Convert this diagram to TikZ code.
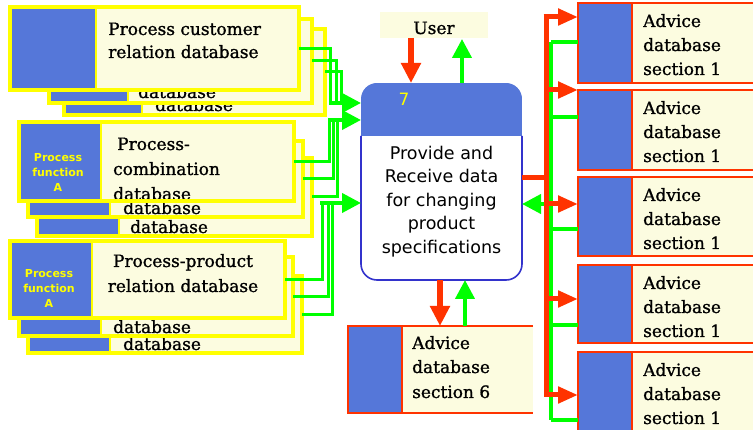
\documentclass[tikz,border=0pt]{standalone}
\usepackage{fontspec}
\setmainfont[FakeBold=1.2]{DejaVu Serif}
\newfontfamily\sansf{DejaVu Sans}
\usetikzlibrary{arrows.meta}
\definecolor{bfill}{RGB}{85,119,217}
\definecolor{beige}{RGB}{252,252,224}
\definecolor{ylw}{RGB}{255,255,0}
\definecolor{grn}{RGB}{0,255,0}
\definecolor{rd}{RGB}{255,51,0}
\definecolor{pblue}{RGB}{51,51,204}
\tikzset{
  layerbg/.style={fill=beige, inner sep=0pt, outer sep=0pt},
  ybord/.style={draw=ylw, line width=3.5pt},
  lbl/.style={font=\fontsize{17}{23}\selectfont, inner sep=0pt, anchor=base west},
  clbl/.style={font=\fontsize{17}{23}\selectfont, inner sep=0pt, anchor=base},
  pf/.style={font=\sansf\bfseries\fontsize{11}{15}\selectfont, text=ylw, align=center, inner sep=0pt, anchor=north},
  gline/.style={draw=grn, line width=3pt},
  garrow/.style={draw=grn, line width=4pt, -{Triangle[length=19pt,width=19pt]}},
  rline/.style={draw=rd, line width=5pt},
  rarrow/.style={draw=rd, line width=5.5pt, -{Triangle[length=20pt,width=19pt]}},
  rsmall/.style={draw=rd, line width=5pt, -{Triangle[length=20pt,width=16pt]}},
  advbox/.style={fill=beige, inner sep=0pt, outer sep=0pt},
}
% #1 name, #2 x1, #3 y1, #4 x2, #5 y2, #6 x of blue end, #7 contents
\newcommand\stk[7]{%
  \node[layerbg, minimum width={#4pt-#2pt}, minimum height={#5pt-#3pt}] (#1) at ({(#2+#4)/2},{(#3+#5)/2}) {};
  \fill[bfill] (#2,#3) rectangle (#6,#5);
  \draw[ylw, line width=1.5pt] (#6,#3) -- (#6,#5);
  #7
  \draw[ybord] (#1.north west) rectangle (#1.south east);
}
% #1 name, #2 y1, #3 y2
\newcommand\adv[3]{%
  \node[advbox, minimum width=182pt, minimum height={#3pt-#2pt}] (#1) at (669,{(#2+#3)/2}) {};
  \fill[bfill] (578,#2) rectangle (632,#3);
  \draw[rd, line width=1.5pt] (632,#2) -- (632,#3);
  \draw[rd, line width=2.5pt] (#1.north west) rectangle (#1.south east);
  \node[lbl] (#1a) at (643,{#2+24}) {Advice};
  \node[lbl] (#1b) at (643,{#2+48}) {database};
  \node[lbl] (#1c) at (643,{#2+72}) {section 1};
}
\begin{document}
\begin{tikzpicture}[x=1pt,y=-1pt]
\useasboundingbox (0,0) rectangle (753,430);

% ---------- top-left stack
\stk{a3}{64}{29}{325}{115}{142}{\node[lbl] (a3t) at (155,111) {database};}
\stk{a2}{49}{19}{312}{103}{128}{\node[lbl] (a2t) at (138,98) {database};}
\stk{a1}{10}{7}{299}{90}{96}{%
  \node[lbl] (a1t) at (108,35) {Process customer};
  \node[lbl] (a1u) at (108,58) {relation database};}

% ---------- middle-left stack
\stk{b3}{37}{158}{312}{236}{119}{\node[lbl] (b3t) at (130,233) {database};}
\stk{b2}{28}{141}{303}{217}{110}{\node[lbl] (b2t) at (123,214) {database};}
\stk{b1}{19}{122}{294}{201}{101}{%
  \node[pf] (b1p) at (58,153) {Process\\function\\A};
  \node[lbl] (b1t) at (117,150) {Process-};
  \node[lbl] (b1u) at (113,175) {combination};
  \node[lbl] (b1v) at (113,200) {database};}

% ---------- bottom-left stack
\stk{c3}{28}{276}{302}{353}{110}{\node[lbl] (c3t) at (123,350) {database};}
\stk{c2}{19}{257}{293}{336}{101}{\node[lbl] (c2t) at (113,333) {database};}
\stk{c1}{10}{241}{285}{318}{92}{%
  \node[pf] (c1p) at (49,269) {Process\\function\\A};
  \node[clbl] (c1t) at (183,267) {Process-product};
  \node[clbl] (c1u) at (183,292) {relation database};}

% ---------- user
\node[fill=beige, minimum width=108pt, minimum height=26pt, inner sep=0pt] (user) at (434,25) {};
\node[clbl] (usert) at (434,34) {User};

% ---------- process box
\node[fill=white, rounded corners=16pt, minimum width=161pt, minimum height=197pt, inner sep=0pt, outer sep=0pt] (proc) at (441.5,181.5) {};
\begin{scope}
  \clip[rounded corners=16pt] (361,83) rectangle (522,280);
  \fill[bfill] (361,83) rectangle (522,136);
\end{scope}
\draw[pblue, line width=1.6pt, rounded corners=16pt] (361,136) -- (361,280) -- (522,280) -- (522,136);
\node[font=\sansf\fontsize{17}{20}\selectfont, text=ylw, anchor=base, inner sep=0pt] (num) at (404,106) {7};
\node[font=\sansf\fontsize{17.5}{23.5}\selectfont, align=center, anchor=north, inner sep=0pt] (ptext) at (441.5,146) {Provide and\\Receive data\\for changing\\product\\specifications};

% ---------- section 6 box
\node[advbox, minimum width=185pt, minimum height=87pt] (s6) at (440.5,369.5) {};
\fill[bfill] (348,326) rectangle (402,413);
\draw[rd, line width=1.5pt] (402,326) -- (402,413);
\draw[rd, line width=2.5pt] (s6.north east) -- (s6.north west) -- (s6.south west) -- (s6.south east);
\node[lbl] (s6a) at (412,349) {Advice};
\node[lbl] (s6b) at (412,373) {database};
\node[lbl] (s6c) at (412,398) {section 6};

% ---------- right advice boxes
\adv{r1}{3}{83}
\adv{r2}{90}{170}
\adv{r3}{177}{256}
\adv{r4}{265}{343}
\adv{r5}{352}{432}

% ---------- user / process arrows
\draw[rarrow] (user.south -| 411,0) -- (proc.north -| 411,0);
\draw[garrow] (proc.north -| 462,0) -- (462,39);
\draw[rarrow] (proc.south -| 440,0) -- (s6.north -| 440,0);
\draw[garrow] (s6.north -| 465,0) -- (proc.south -| 465,0);

% ---------- left green connectors
\coordinate (g1) at (330,103);
\coordinate (g2) at (330,120);
\coordinate (g3) at (320,203);
\draw[gline] (a1.east) -| (330,105);
\draw[gline] (a2.east) -| (336,105);
\draw[gline] (a3.east) -| (341,105);
\draw[gline] (b1.east) -| (329,118);
\draw[gline] (b2.east) -| (333,118);
\draw[gline] (b3.east) -| (337,118);
\draw[gline] (c1.east) -| (322,201);
\draw[gline] (c2.east) -| (328,201);
\draw[gline] (c3.east) -| (332,201);
\draw[garrow] (g1) -- (proc.west |- g1);
\draw[garrow] (g2) -- (proc.west |- g2);
\draw[garrow] (g3) -- (proc.west |- g3);

% ---------- right green bus
\draw[gline, line width=4pt] (551,42) -- (551,420);
\draw[gline, line width=4pt] (551,42) -- (r1.west |- 0,42);
\draw[gline, line width=4pt] (551,117) -- (r2.west |- 0,117);
\draw[gline, line width=4pt] (551,229) -- (r3.west |- 0,229);
\draw[gline, line width=4pt] (551,325) -- (r4.west |- 0,325);
\draw[gline, line width=4pt] (551,420) -- (r5.west |- 0,420);
\draw[garrow] (551,204) -- (proc.east |- 0,204);

% ---------- right red bus
\draw[rline] (proc.east |- 0,178) -- (546,178);
\draw[rline] (546,397) -- (546,15);
\draw[rsmall] (543.5,17) -- (r1.west |- 0,17);
\draw[rsmall] (546,90) -- (r2.west |- 0,90);
\draw[rsmall] (546,204) -- (r3.west |- 0,204);
\draw[rsmall] (546,299) -- (r4.west |- 0,299);
\draw[rsmall] (546,395) -- (r5.west |- 0,395);
\end{tikzpicture}
\end{document}
